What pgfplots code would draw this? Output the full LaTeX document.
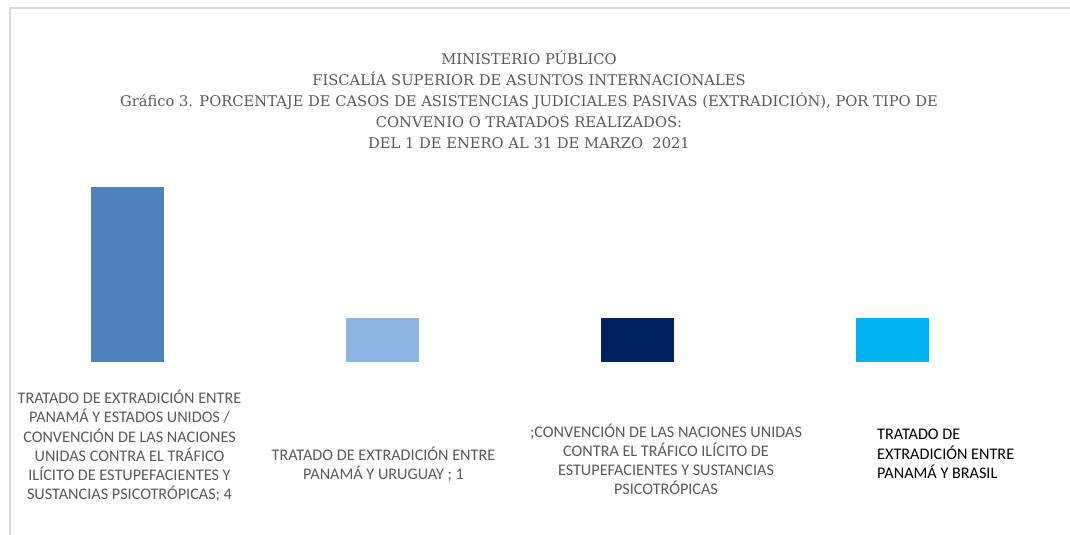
\documentclass[border=0pt]{standalone}
\usepackage{pgfplots}
\pgfplotsset{compat=1.18}
\usepackage{fontspec}
\setmainfont{DejaVu Serif}
\newfontfamily\lab{Carlito}
\definecolor{txt}{HTML}{595959}
\definecolor{cA}{HTML}{4F81BD}
\definecolor{cB}{HTML}{8EB4E3}
\definecolor{cC}{HTML}{002060}
\definecolor{cD}{HTML}{00B0F0}
\begin{document}
\begin{tikzpicture}[x=1pt,y=1pt]
\useasboundingbox (0,0) rectangle (1070,535);
\draw[color=black!15, line width=1.5pt] (10,0) -- (10,527) -- (1070,527);
\begin{axis}[
  at={(0pt,173pt)}, anchor=south west,
  scale only axis, width=1020pt, height=196.875pt,
  xmin=-0.5, xmax=3.5, ymin=0, ymax=4.5,
  hide axis, clip=false,
  ybar, bar width=73pt, bar shift=0pt,
]
\addplot[fill=cA, draw=none] coordinates {(0,4)};
\addplot[fill=cB, draw=none] coordinates {(1,1)};
\addplot[fill=cC, draw=none] coordinates {(2,1)};
\addplot[fill=cD, draw=none] coordinates {(3,1)};
\end{axis}
\node[anchor=base, align=center, inner sep=0pt, text=txt, font=\fontsize{14.7}{21}\selectfont] at (529,386)
 {MINISTERIO PÚBLICO\\FISCALÍA SUPERIOR DE ASUNTOS INTERNACIONALES\\Gráfico 3. PORCENTAJE DE CASOS DE ASISTENCIAS JUDICIALES PASIVAS (EXTRADICIÓN), POR TIPO DE\\CONVENIO O TRATADOS REALIZADOS:\\DEL 1 DE ENERO AL 31 DE MARZO\ \ 2021};
\begin{scope}[every node/.style={inner sep=0pt, font=\lab\fontsize{16.2}{19.3}\selectfont}]
\node[anchor=base, align=center, text=txt] at (129.5,35)
 {TRATADO DE EXTRADICIÓN ENTRE\\PANAMÁ Y ESTADOS UNIDOS /\\CONVENCIÓN DE LAS NACIONES\\UNIDAS CONTRA EL TRÁFICO\\ILÍCITO DE ESTUPEFACIENTES Y\\SUSTANCIAS PSICOTRÓPICAS; 4};
\node[anchor=base, align=center, text=txt] at (383.5,55)
 {TRATADO DE EXTRADICIÓN ENTRE\\PANAMÁ Y URUGUAY ; 1};
\node[anchor=base, align=center, text=txt] at (666,40)
 {;CONVENCIÓN DE LAS NACIONES UNIDAS\\CONTRA EL TRÁFICO ILÍCITO DE\\ESTUPEFACIENTES Y SUSTANCIAS\\PSICOTRÓPICAS};
\node[anchor=base west, align=left, text=black, font=\lab\fontsize{16.2}{19.5}\selectfont] at (877,56)
 {TRATADO DE\\EXTRADICIÓN ENTRE\\PANAMÁ Y BRASIL};
\end{scope}
\end{tikzpicture}
\end{document}
